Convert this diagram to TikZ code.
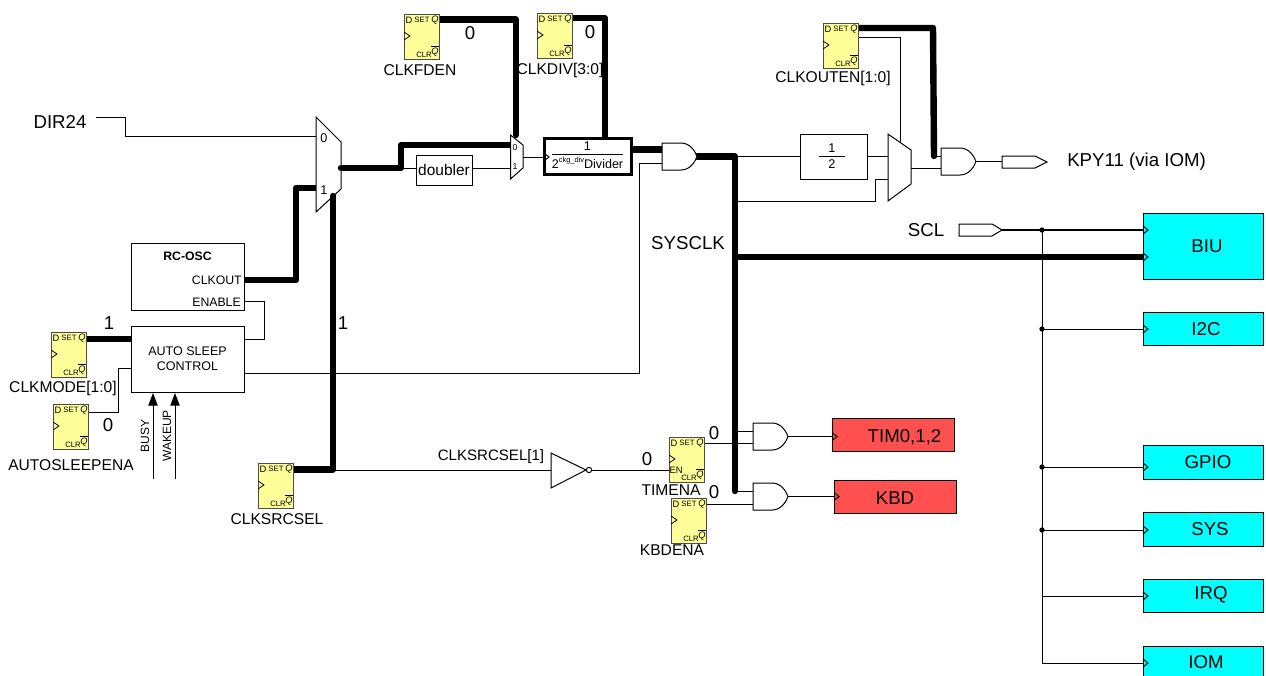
\documentclass[tikz,border=0pt]{standalone}
\usepackage{fontspec}
\setmainfont{Liberation Sans}
\usetikzlibrary{arrows.meta,backgrounds}
\definecolor{ffyellow}{HTML}{FFFF99}
\definecolor{bluecell}{HTML}{00FFFF}
\definecolor{redcell}{HTML}{FF5050}
\tikzset{
  blk/.style={draw=black,fill=white,line width=.75pt,inner sep=0pt,outer sep=0pt,align=center},
  thinw/.style={draw=black,line width=.75pt,line join=miter},
  medw/.style={draw=black,line width=1.5pt},
  bus/.style={draw=black,line width=4.8pt,line join=round,line cap=round},
  tlab/.style={inner sep=0pt,font=\fontsize{11.7}{13}\selectfont},
  tsig/.style={inner sep=0pt,font=\fontsize{14}{16}\selectfont},
  tsmall/.style={inner sep=0pt,font=\fontsize{9.5}{11}\selectfont},
  tff/.style={inner sep=0pt,font=\fontsize{7}{8}\selectfont},
  tffs/.style={inner sep=0pt,font=\fontsize{5.8}{7}\selectfont},
  dot/.style={circle,fill=black,inner sep=0pt,minimum size=4pt},
}
% block: name x1 y1 x2 y2 options text
\newcommand{\blockcell}[7]{\node[blk,minimum width={(#4-#2)*0.75pt},minimum height={(#5-#3)*0.75pt},#6] (#1) at ({(#2+#4)/2},{(#3+#5)/2}) {#7};}
% flip-flop: name x y
\newcommand{\ffcell}[3]{%
  \node[blk,fill=ffyellow,draw=black!70,minimum width=26.25pt,minimum height=33.75pt,anchor=north west] (#1) at (#2,#3) {};
  \node[tff] (#1-d) at ({#2+5},{#3+6}) {D};
  \node[tffs] (#1-s) at ({#2+18},{#3+5.5}) {SET};
  \node[tff] (#1-q) at ({#2+31},{#3+6}) {\textit{Q}};
  \node[tffs] (#1-c) at ({#2+20},{#3+41}) {CLR};
  \node[tff] (#1-n) at ({#2+31},{#3+37}) {$\overline{\mbox{\textit{Q}}}$};
  \draw[line width=.6pt] (#2,{#3+18}) -- ({#2+6},{#3+22}) -- (#2,{#3+26});
}
% AND gate: name x y
\newcommand{\andcell}[3]{%
  \draw[line width=.75pt,fill=white] (#2,#3) -- ({#2+19},#3) .. controls ({#2+28},#3) and ({#2+33},{#3+8}) .. ({#2+35},{#3+13.5}) .. controls ({#2+33},{#3+19}) and ({#2+28},{#3+27}) .. ({#2+19},{#3+27}) -- (#2,{#3+27}) -- cycle;
  \coordinate (#1-o) at ({#2+35},{#3+13.5});
}
\newcommand{\chevron}[2]{\draw[line width=.75pt] (#1,{#2-4}) -- ({#1+5},#2) -- (#1,{#2+4});}
\begin{document}
\begin{tikzpicture}[x=0.75pt,y=-0.75pt]
\useasboundingbox (0,0) rectangle (1266,675);

% flip-flops
\ffcell{ffden}{404}{14}
\ffcell{ffdiv}{537}{13}
\ffcell{ffout}{823}{23}
\ffcell{ffmode}{51}{332}
\ffcell{ffsleep}{53}{404}
\ffcell{ffsrc}{258}{463}
\ffcell{fftim}{669}{437}
\ffcell{ffkbd}{671}{498}
\node[tff] (fftim-en) at (676,470) {EN};

% flip-flop labels
\node[tlab] (lden) at (420,70) {CLKFDEN};
\node[tlab] (ldiv) at (560,70) {CLKDIV[3:0]};
\node[tlab] (lout) at (833,78) {CLKOUTEN[1:0]};
\node[tlab] (lmode) at (63,388) {CLKMODE[1:0]};
\node[tlab] (lsleep) at (71,465) {AUTOSLEEPENA};
\node[tlab] (lsrc) at (277,519) {CLKSRCSEL};
\node[tlab] (ltim) at (671,490) {TIMENA};
\node[tlab] (lkbd) at (672,550) {KBDENA};

% blocks
\blockcell{rcosc}{131}{243}{244}{310}{}{}
\node[inner sep=0pt,font=\bfseries\fontsize{9.2}{10}\selectfont] (rctitle) at (187.5,256) {RC-OSC};
\node[inner sep=0pt,font=\fontsize{9.2}{11}\selectfont,anchor=east] (rcclk) at (242,280) {CLKOUT};
\node[inner sep=0pt,font=\fontsize{9.2}{11}\selectfont,anchor=east] (rcen) at (241,302) {ENABLE};
\blockcell{asc}{131}{326}{244}{392}{font=\fontsize{9.4}{11.2}\selectfont}{AUTO SLEEP\\CONTROL}
\blockcell{doubler}{416}{155}{472}{185}{font=\fontsize{11.6}{13}\selectfont}{doubler}
\blockcell{divider}{544}{138}{631}{174}{line width=2.25pt}{}
\node[tsmall] (divone) at (587.5,146.5) {1};
\draw[line width=.75pt] (552,154) -- (623,154);
\node[inner sep=0pt,font=\fontsize{9.4}{11}\selectfont] (divtwo) at (587.5,162.5) {2\raisebox{.5em}{\fontsize{5.6}{6}\selectfont ckg\_div}Divider};
\draw[line width=.75pt] (545,154) -- (549,157) -- (545,160);
\blockcell{half}{800}{134}{867}{179}{}{}
\node[tsmall] (halfa) at (832,148) {1};
\draw[line width=.75pt] (819,156) -- (845,156);
\node[tsmall] (halfb) at (832,164) {2};

% muxes
\draw[line width=.75pt,fill=white] (316,117) -- (341,142) -- (341,189) -- (316,212) -- cycle;
\node[tsmall] (m1a) at (324,138) {0};
\node[tsmall] (m1b) at (324,190) {1};
\draw[line width=.75pt,fill=white] (510.5,135) -- (523,145) -- (523,168) -- (510.5,179) -- cycle;
\node[inner sep=0pt,font=\fontsize{6.5}{7}\selectfont] (m2a) at (515,148) {0};
\node[inner sep=0pt,font=\fontsize{6.5}{7}\selectfont] (m2b) at (515,167) {1};
\draw[line width=.75pt,fill=white] (888,134) -- (911,150) -- (911,184) -- (888,201) -- cycle;

% gates
\andcell{g1}{662}{143}
\andcell{g2}{941}{148}
\andcell{g3}{753}{423}
\andcell{g4}{753}{483}

% inverter
\draw[line width=.75pt,fill=white] (551,453) -- (586,470) -- (551,488) -- cycle;
\node[draw,fill=white,circle,line width=.75pt,inner sep=0pt,minimum size=4pt] (invb) at (589,470) {};

% tags
\draw[line width=.75pt,fill=white] (1002,156) -- (1035,156) -- (1047,162) -- (1035,168) -- (1002,168) -- cycle;
\draw[line width=.75pt,fill=white] (959,224) -- (992,224) -- (1002,230) -- (992,236) -- (959,236) -- cycle;

% peripheral cells
\blockcell{biu}{1143}{213}{1263}{279}{fill=bluecell}{}
\node[tsig] (biut) at (1207,246) {BIU};
\blockcell{itc}{1143}{312}{1263}{345}{fill=bluecell}{}
\node[tsig] (itct) at (1206,329) {I2C};
\blockcell{gpio}{1143}{445}{1263}{479}{fill=bluecell}{}
\node[tsig] (gpiot) at (1208,462) {GPIO};
\blockcell{sys}{1143}{512}{1263}{546}{fill=bluecell}{}
\node[tsig] (syst) at (1210,529) {SYS};
\blockcell{irq}{1143}{579}{1263}{612}{fill=bluecell}{}
\node[tsig] (irqt) at (1211,595) {IRQ};
\blockcell{iom}{1143}{646}{1263}{681}{fill=bluecell}{}
\node[tsig] (iomt) at (1206,662) {IOM};
\blockcell{tim}{832}{418}{954}{451}{fill=redcell}{}
\node[tsig] (timt) at (904.5,437) {TIM0,1,2};
\blockcell{kbd}{834}{480}{956}{513}{fill=redcell}{}
\node[tsig] (kbdt) at (895,498) {KBD};
\chevron{1143}{230}\chevron{1143}{257}\chevron{1143}{329}\chevron{1143}{467}\chevron{1143}{530}\chevron{1143}{596}\chevron{1143}{663}
\chevron{832}{436.5}\chevron{834}{496.5}

% signal labels
\node[tsig] (tdir) at (60,122) {DIR24};
\node[tsig] (tsysclk) at (688,243) {SYSCLK};
\node[tsig] (tscl) at (926,230) {SCL};
\node[tsig,anchor=west] (tkpy) at (1067,162) {KPY11 (via IOM)};
\node[tsig] (v1) at (470,33) {0};
\node[tsig] (v2) at (590,32) {0};
\node[tsig] (v3) at (109,323) {1};
\node[tsig] (v4) at (108,425) {0};
\node[tsig] (v5) at (343,323) {1};
\node[tsig] (v6) at (647,459) {0};
\node[tsig] (v7) at (714,433) {0};
\node[tsig] (v8) at (714,492) {0};
\node[tlab,font=\fontsize{11.3}{13}\selectfont] (tsrc1) at (491,457) {CLKSRCSEL[1]};
\node[inner sep=0pt,font=\fontsize{9}{11}\selectfont,rotate=90] (tbusy) at (145,436) {BUSY};
\node[inner sep=0pt,font=\fontsize{9}{11}\selectfont,rotate=90] (twake) at (167,436) {WAKEUP};

% free ends and junctions
\coordinate (dirstub) at (96,117);
\coordinate (busyend) at (153,479);
\coordinate (wakeend) at (175,479);
\coordinate (sysj) at (735,156.5);
\coordinate (sysb) at (735,491);
\coordinate (srcj) at (333,470);
\coordinate (sclj) at (1042,230);
\coordinate (m1top) at (316,136);
\coordinate (m1low) at (316,188);
\coordinate (m1out) at (341,168);
\coordinate (m1sel) at (333,196);
\coordinate (dblj) at (401,168);
\coordinate (m2top) at (510.5,145);
\coordinate (m2sel) at (516,135);
\coordinate (m2low) at (510.5,168);
\coordinate (m2out) at (523,157);
\coordinate (m3a) at (888,156.5);
\coordinate (m3b) at (888,179);
\coordinate (m3out) at (911,168);
\coordinate (m3sel) at (900,142);
\coordinate (g2a) at (941,156);
\coordinate (g2j) at (934,156);
\coordinate (g2b) at (941,168);
\coordinate (g1a) at (662,149.5);
\coordinate (g1b) at (662,163);

\begin{scope}[on background layer]
  % thin wires
  \draw[thinw] (dirstub) -- (125,117) -- (125,136) -- (m1top);
  \draw[thinw] (dblj) -- (doubler.west |- dblj);
  \draw[thinw] (doubler.east |- m2low) -- (m2low);
  \draw[thinw] (m2out) -- (544,157);
  \draw[thinw] (g1b) -- (639,163) -- (639,373) -- (244,373);
  \draw[thinw] (244,301) -- (264,301) -- (264,339) -- (244,339);
  \draw[thinw] (88,412) -- (118,412) -- (118,368) -- (131,368);
  \draw[thinw] (srcj) -- (551,470);
  \draw[thinw] (invb) -- (669,470);
  \draw[thinw] (sysj) -- (half.west |- sysj);
  \draw[thinw] (half.east |- m3a) -- (m3a);
  \draw[thinw] (735,201) -- (875,201) -- (875,179) -- (m3b);
  \draw[thinw] (m3out) -- (g2b);
  \draw[thinw] (858,37) -- (900,37) -- (m3sel);
  \draw[thinw] (g2j) -- (g2a);
  \draw[thinw] (g2-o) -- (1002,161.5);
  \draw[thinw] (735,431) -- (753,431);
  \draw[thinw] (705,443) -- (753,443);
  \draw[thinw] (735,491) -- (753,491);
  \draw[thinw] (706,504) -- (753,504);
  \draw[thinw] (g3-o) -- (832,436.5);
  \draw[thinw] (g4-o) -- (834,496.5);
  \draw[thinw] (sclj) -- (1042,663) -- (1143,663);
  \draw[thinw] (1042,329) -- (1143,329);
  \draw[thinw] (1042,467) -- (1143,467);
  \draw[thinw] (1042,530) -- (1143,530);
  \draw[thinw] (1042,596) -- (1143,596);
  \draw[medw] (1002,230) -- (1143,230);
  % buses
  \draw[bus] (439,19.5) -- (516,19.5) -- (m2sel);
  \draw[bus] (572,18) -- (605,18) -- (605,139);
  \draw[bus] (858,28) -- (933,28) -- (g2j);
  \draw[bus] (m1out) -- (dblj) -- (401,145) -- (m2top);
  \draw[bus] (244,280) -- (296,280) -- (296,188) -- (m1low);
  \draw[bus] (293,469.5) -- (333,469.5) -- (m1sel);
  \draw[bus] (86,339) -- (131,339);
  \draw[bus] (631,149.5) -- (g1a);
  \draw[bus] (g1-o) -- (sysj) -- (sysb);
  \draw[bus,line cap=butt] (735,257) -- (1143,257);
\end{scope}

% bus ends that lie over the mux outline
\draw[bus] (m1out) -- (345,168);
\draw[bus] (m1sel) -- (333,202);

% arrows into the sleep control
\draw[line width=.75pt,-{Triangle[length=9.5pt,width=7pt]}] (busyend) -- (153,393);
\draw[line width=.75pt,-{Triangle[length=9.5pt,width=7pt]}] (wakeend) -- (175,393);

% junction dots
\node[dot] (d1) at (1042,230) {};
\node[dot] (d2) at (1042,329) {};
\node[dot] (d3) at (1042,467) {};
\node[dot] (d4) at (1042,530) {};
\end{tikzpicture}
\end{document}
